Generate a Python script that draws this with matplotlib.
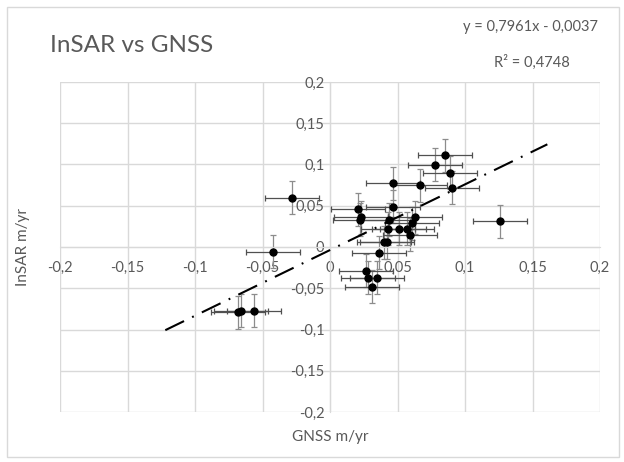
import numpy as np
import matplotlib
matplotlib.use('Agg')
import matplotlib.pyplot as plt
from matplotlib.ticker import FuncFormatter, MultipleLocator
from matplotlib.patches import Rectangle

'''
InSAR vs GNSS velocity comparison (Excel style scatter with error bars)
'''
# velocities, m/yr
gnss = [0.0855, 0.078, 0.089, 0.0906, 0.0464, 0.067, 0.047, 0.021, 0.022,
        0.023, 0.044, 0.063, 0.0605, 0.043, 0.051, 0.057, 0.059, 0.040,
        0.042, 0.036, 0.0264, 0.028, 0.035, 0.0314, 0.126, -0.0425,
        -0.068, -0.066, -0.056, -0.028]
insar = [0.111, 0.100, 0.090, 0.072, 0.077, 0.075, 0.049, 0.046, 0.033,
         0.036, 0.033, 0.036, 0.029, 0.022, 0.022, 0.022, 0.015, 0.006,
         0.006, -0.007, -0.029, -0.037, -0.037, -0.048, 0.031, -0.006,
         -0.079, -0.077, -0.077, 0.060]
gnss_err = 0.02
insar_err = 0.02

# linear trendline from the chart
slope = 0.7961
intercept = -0.0037
r2 = 0.4748
trend_x = [-0.122, 0.161]

txt = '#595959'
grid = '#d9d9d9'
plt.rcParams['font.family'] = ['Lato', 'DejaVu Sans']

fig = plt.figure(figsize=(6.24, 4.62), dpi=100)
ax = fig.add_axes([60 / 624, 1 - 412 / 462, 540 / 624, 330 / 462])

# error bars, x darker than y like the original
ax.errorbar(gnss, insar, xerr=gnss_err, fmt='none', ecolor='#505050',
            elinewidth=0.9, capsize=2.5, capthick=0.9, zorder=3)
ax.errorbar(gnss, insar, yerr=insar_err, fmt='none', ecolor='#8c8c8c',
            elinewidth=0.9, capsize=2.5, capthick=0.9, zorder=2)
ax.plot(gnss, insar, 'o', color='black', markersize=5, zorder=4)

tx = np.array(trend_x)
ax.plot(tx, slope * tx + intercept, color='black', lw=1.5,
        linestyle=(0, (10, 4.3, 0.9, 4.3)), zorder=5)

ax.set_xlim(-0.2, 0.2)
ax.set_ylim(-0.2, 0.2)
ax.xaxis.set_major_locator(MultipleLocator(0.05))
ax.yaxis.set_major_locator(MultipleLocator(0.05))
fmt = FuncFormatter(lambda v, p: ('%g' % round(v, 3)).replace('.', ','))
ax.xaxis.set_major_formatter(fmt)
ax.yaxis.set_major_formatter(fmt)
ax.grid(True, color=grid, lw=1)
ax.set_axisbelow(True)
for s in ['top', 'right']:
    ax.spines[s].set_visible(False)
ax.spines['left'].set_position('zero')
ax.spines['bottom'].set_position('zero')
ax.spines['left'].set_color(grid)
ax.spines['bottom'].set_color(grid)
ax.tick_params(length=0, labelsize=10.5, labelcolor=txt)
ax.tick_params(axis='x', pad=10)
ax.tick_params(axis='y', pad=4)

fig.text(50 / 624, 1 - 45 / 462, 'InSAR vs GNSS', fontsize=17.5, color=txt,
         va='center', ha='left')
fig.text(598 / 624, 1 - 27 / 462, 'y = 0,7961x - 0,0037', fontsize=10.5,
         color=txt, va='center', ha='right')
fig.text(570 / 624, 1 - 62 / 462, 'R\u00b2 = ' + ('%.4f' % r2).replace('.', ','),
         fontsize=10.5, color=txt, va='center', ha='right')
fig.text(330 / 624, 1 - 437 / 462, 'GNSS m/yr', fontsize=11, color=txt,
         va='center', ha='center')
fig.text(23 / 624, 1 - 247 / 462, 'InSAR m/yr', fontsize=11, color=txt,
         va='center', ha='center', rotation=90)

fig.patches.append(Rectangle((7 / 624, 5 / 462), 612 / 624, 450 / 462,
                             transform=fig.transFigure, fill=False,
                             edgecolor=grid, lw=1))

plt.savefig('out.png', dpi=100)
